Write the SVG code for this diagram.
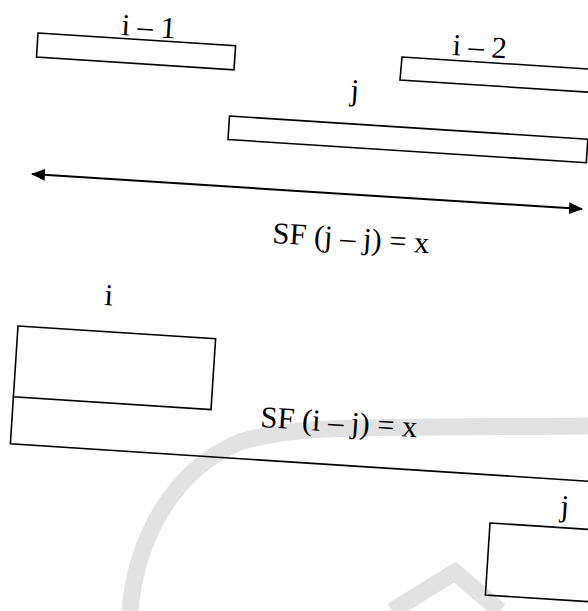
<svg xmlns="http://www.w3.org/2000/svg" width="588" height="611" viewBox="0 0 588 611">
  <style>
    .box { fill: none; stroke: #000; stroke-width: 1.6; stroke-linejoin: miter; }
    .lbl { font-family: "Liberation Serif", "Times New Roman", serif; font-size: 30.5px; fill: #000; }
    .wm { fill: none; stroke: #e2e2e2; stroke-width: 17; }
    .conn { stroke: #000; stroke-width: 2; fill: none; }
  </style>
  <defs>
    <marker id="ah" viewBox="0 0 14 12" refX="13" refY="6" markerWidth="14" markerHeight="12" markerUnits="userSpaceOnUse" orient="auto-start-reverse">
      <path d="M0,0 L14,6 L0,12 z" fill="#000"/>
    </marker>
  </defs>
  <rect width="588" height="611" fill="#fff"/>

  <g id="watermark">
    <path class="wm" d="M130,611 C136,540 172,470 240,442 C300,424 360,428 588,426"/>
    <polyline class="wm" points="392,611 455,572 500,611"/>
  </g>

  <g id="node-i-1">
    <polygon class="box" points="38,33 235.6,45.8 234,69.8 36.5,57"/>
    <text class="lbl" x="121" y="35" transform="rotate(3.7 121 35)">i – 1</text>
  </g>

  <g id="node-i-2">
    <polygon class="box" points="402,57 651,73 649,96 400,80"/>
    <text class="lbl" x="452" y="55" transform="rotate(3.7 452 55)">i – 2</text>
  </g>

  <g id="node-j-top">
    <polygon class="box" points="229.5,116 587.8,139.2 586.3,162.7 228,139.5"/>
    <text class="lbl" x="350" y="100" transform="rotate(3.7 350 100)">j</text>
  </g>

  <g id="node-i">
    <polygon class="box" points="18,326 215.6,338.8 211,409.6 13.4,396.8"/>
    <text class="lbl" x="104" y="305" transform="rotate(3.7 104 305)">i</text>
  </g>

  <g id="node-i-j-region">
    <polyline class="box" points="13.4,396.8 10.4,443.8 600,482"/>
  </g>

  <g id="node-j-bottom">
    <polygon class="box" points="490,523 700,536.6 695.4,608.6 485.4,595"/>
    <text class="lbl" x="560" y="516" transform="rotate(3.7 560 516)">j</text>
  </g>

  <g id="connectors">
    <line class="conn" x1="32" y1="174" x2="582" y2="209" marker-start="url(#ah)" marker-end="url(#ah)"/>
  </g>

  <g id="labels">
    <text class="lbl" x="272" y="243" transform="rotate(3.7 272 243)">SF (j – j) = x</text>
    <text class="lbl" x="260" y="427" transform="rotate(3.7 260 427)">SF (i – j) = x</text>
  </g>
</svg>
